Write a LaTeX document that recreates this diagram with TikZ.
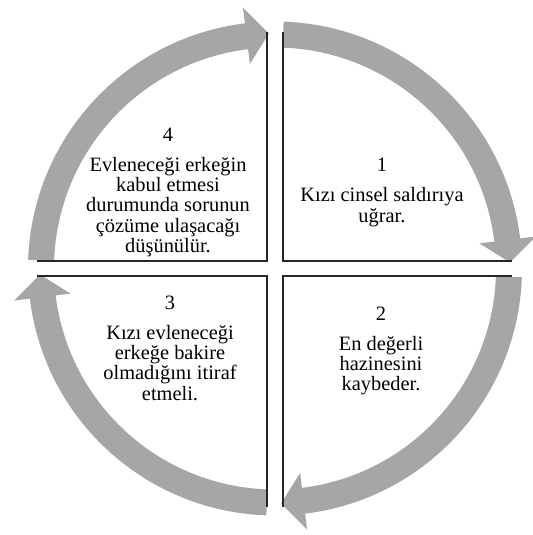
\documentclass[tikz,border=0pt]{standalone}
\usepackage{fontspec}
\setmainfont{Liberation Serif}
\usetikzlibrary{calc}
\definecolor{arrowgray}{RGB}{166,166,166}
\tikzset{
  ringarrow/.style={fill=arrowgray, draw=none},
  qline/.style={draw=black!85, line width=1.1bp},
  qtext/.style={align=center, inner sep=0pt, anchor=north,
    font=\fontsize{20.4bp}{20.3bp}\selectfont}
}
\newcommand{\ringarrow}[1]{%
  \fill[ringarrow]
    ($(C)+(#1+2:247)$) arc[start angle=#1+2, end angle=#1+83, radius=247]
    -- ($(C)+(#1+83:263)$) -- ($(C)+(#1+88.5:235)$) -- ($(C)+(#1+83:206)$)
    -- ($(C)+(#1+83:221)$) arc[start angle=#1+83, end angle=#1+2, radius=221]
    -- cycle;}
\begin{document}
\begin{tikzpicture}[x=1bp, y=-1bp]
\useasboundingbox (0,0) rectangle (533,535);
\coordinate (C) at (275,268.5);
% ring arrows (y axis flipped: angles run clockwise)
\ringarrow{270}
\ringarrow{0}
\ringarrow{90}
\ringarrow{180}
% quadrant edges
\coordinate (tl1) at (267,32);  \coordinate (tlc) at (267,261); \coordinate (tl2) at (37,261);
\coordinate (tr1) at (283,32);  \coordinate (trc) at (283,261); \coordinate (tr2) at (512,261);
\coordinate (br1) at (283,507); \coordinate (brc) at (283,276); \coordinate (br2) at (512,276);
\coordinate (bl1) at (267,507); \coordinate (blc) at (267,276); \coordinate (bl2) at (37,276);
\draw[qline] (tl1) -- (tlc) -- (tl2);
\draw[qline] (tr1) -- (trc) -- (tr2);
\draw[qline] (br1) -- (brc) -- (br2);
\draw[qline] (bl1) -- (blc) -- (bl2);
% texts
\node[qtext] (q1) at (382,158.2) {1\\[9.7bp]Kızı cinsel saldırıya\\uğrar.};
\node[qtext] (q2) at (381,306.5) {2\\[9.7bp]En değerli\\hazinesini\\kaybeder.};
\node[qtext] (q3) at (170,295.5) {3\\[9.7bp]Kızı evleneceği\\erkeğe bakire\\olmadığını itiraf\\etmeli.};
\node[qtext] (q4) at (168,127.5) {4\\[9.7bp]Evleneceği erkeğin\\kabul etmesi\\durumunda sorunun\\çözüme ulaşacağı\\düşünülür.};
\end{tikzpicture}
\end{document}
